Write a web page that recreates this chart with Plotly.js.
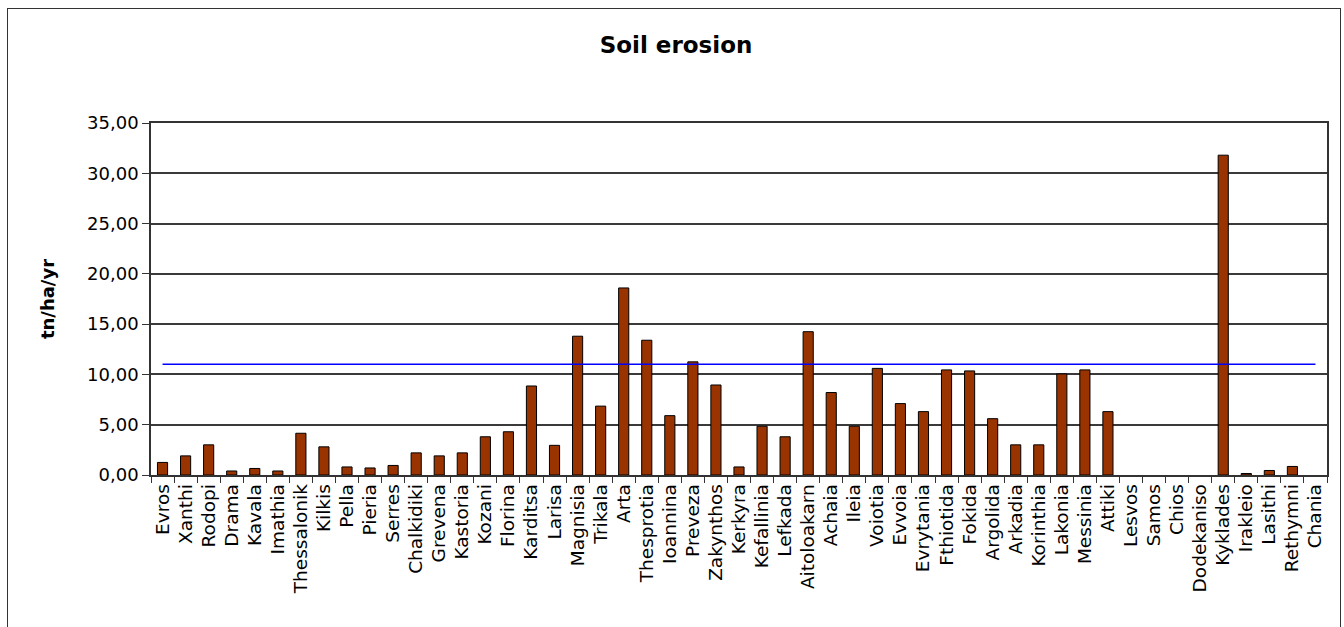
<!DOCTYPE html>
<html>
<head>
<meta charset="utf-8">
<script src="https://cdn.plot.ly/plotly-3.0.1.min.js"></script>
<style>
  html, body { margin: 0; padding: 0; background: #fff; overflow: hidden; }
  #chart { position: absolute; left: 0; top: 0; width: 1344px; height: 627px; }
  #frame { position: absolute; left: 7px; top: 8px; width: 1332px; height: 700px;
           border: 1px solid #333; pointer-events: none; }
</style>
</head>
<body>
<div id="chart"></div>
<div id="frame"></div>
<script>
const categories = ["Evros","Xanthi","Rodopi","Drama","Kavala","Imathia","Thessalonik","Kilkis","Pella","Pieria",
  "Serres","Chalkidiki","Grevena","Kastoria","Kozani","Florina","Karditsa","Larisa","Magnisia","Trikala",
  "Arta","Thesprotia","Ioannina","Preveza","Zakynthos","Kerkyra","Kefallinia","Lefkada","Aitoloakarn","Achaia",
  "Ileia","Voiotia","Evvoia","Evrytania","Fthiotida","Fokida","Argolida","Arkadia","Korinthia","Lakonia",
  "Messinia","Attiki","Lesvos","Samos","Chios","Dodekaniso","Kyklades","Irakleio","Lasithi","Rethymni","Chania"];

// null = no value shown in the reference (no bar drawn)
const erosion = [1.25, 1.9, 3.0, 0.4, 0.65, 0.4, 4.15, 2.8, 0.8, 0.7,
  0.95, 2.2, 1.9, 2.2, 3.8, 4.3, 8.85, 2.95, 13.8, 6.85,
  18.6, 13.4, 5.9, 11.25, 8.95, 0.8, 4.85, 3.8, 14.25, 8.2,
  4.85, 10.6, 7.1, 6.3, 10.45, 10.35, 5.6, 3.0, 3.0, 10.05,
  10.45, 6.3, null, null, null, null, 31.8, 0.15, 0.45, 0.85, null];

const meanX = ["Evros", "Chania"];
const meanY = [11.0, 11.0];

const yTickVals = [0, 5, 10, 15, 20, 25, 30, 35];

const data = [
  {
    type: "bar",
    x: categories,
    y: erosion,
    marker: { color: "#993300", line: { color: "#000000", width: 1 } },
    hoverinfo: "x+y"
  },
  {
    type: "scatter",
    mode: "lines",
    x: meanX,
    y: meanY,
    line: { color: "#0000ff", width: 1.5 },
    hoverinfo: "y"
  }
];

const layout = {
  width: 1344,
  height: 627,
  paper_bgcolor: "#ffffff",
  plot_bgcolor: "#ffffff",
  showlegend: false,
  separators: ",.",
  font: { family: "DejaVu Sans, Arial, sans-serif", color: "#000000", size: 18 },
  title: {
    text: "<b>Soil erosion</b>",
    font: { family: "DejaVu Sans, Arial, sans-serif", size: 23, color: "#000000" },
    x: 0.503, xanchor: "center",
    y: 0.928, yanchor: "middle"
  },
  margin: { l: 151, r: 17, t: 123, b: 152, pad: 0 },
  bargap: 0.56,
  xaxis: {
    type: "category",
    tickangle: -90,
    ticks: "outside",
    tickson: "boundaries",
    ticklen: 6,
    tickcolor: "#333333",
    tickfont: { size: 18.5, family: "DejaVu Sans, Arial, sans-serif", color: "#000000" },
    showline: true,
    linecolor: "#333333",
    linewidth: 1.5,
    mirror: true,
    showgrid: false,
    zeroline: false,
    fixedrange: true
  },
  yaxis: {
    range: [0, 35],
    tickvals: yTickVals,
    tickformat: ".2f",
    ticks: "outside",
    ticklen: 7,
    tickcolor: "#333333",
    tickfont: { size: 18, family: "DejaVu Sans, Arial, sans-serif", color: "#000000" },
    showline: true,
    linecolor: "#333333",
    linewidth: 1.5,
    mirror: true,
    showgrid: true,
    gridcolor: "#3a3a3a",
    gridwidth: 1.5,
    zeroline: false,
    fixedrange: true,
    title: {
      text: "<b>tn/ha/yr</b>",
      font: { family: "DejaVu Sans, Arial, sans-serif", size: 18, color: "#000000" },
      standoff: 28
    }
  }
};

Plotly.newPlot("chart", data, layout, { displayModeBar: false });
</script>
</body>
</html>
